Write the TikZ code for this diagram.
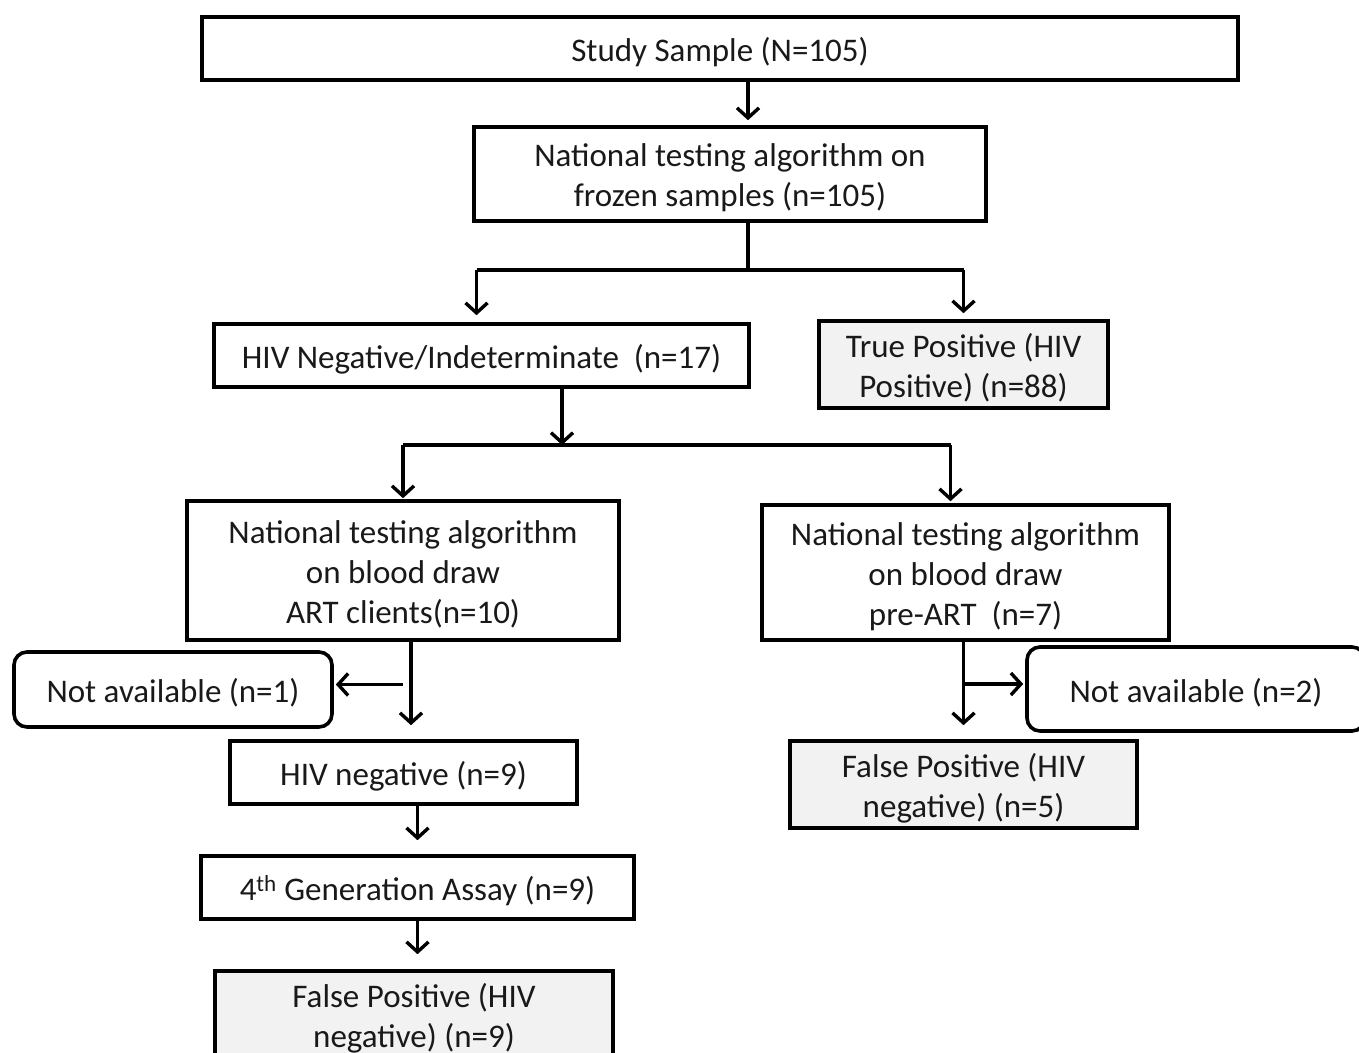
\documentclass[tikz,border=0pt]{standalone}
\usepackage{fontspec}
\setmainfont{Carlito}
\usepackage{xcolor}
\usetikzlibrary{arrows.meta,calc}
\definecolor{boxgrey}{HTML}{F2F2F2}
\newcommand{\lowstrut}{\rule{0pt}{31pt}}

\begin{document}
\begin{tikzpicture}[x=1pt,y=-1pt,
    font=\fontsize{33}{40}\selectfont,
    box/.style={draw,line width=3.6pt,align=center,inner sep=0pt,text=black!90},
    greybox/.style={box,fill=boxgrey},
    roundbox/.style={box,rounded corners=13pt},
    arr/.style={line width=3.6pt,-{Straight Barb[length=10pt,width=22pt,line width=3.4pt]}},
    line/.style={line width=3.6pt}]
      \useasboundingbox (0,0) rectangle (1359,1052);

      \node[box,minimum width=1036,minimum height=63] (sample) at (720,48.5)
        {\lowstrut Study Sample (N=105)};
      \node[box,minimum width=512,minimum height=94] (frozen) at (730,174)
        {\lowstrut National testing algorithm on\\frozen samples (n=105)};
      \node[box,minimum width=535,minimum height=63] (negind) at (481.5,355.5)
        {\lowstrut HIV Negative/Indeterminate\ \ (n=17)};
      \node[greybox,minimum width=289,minimum height=87] (truepos) at (963.5,364.5)
        {\lowstrut True Positive (HIV\\Positive) (n=88)};
      \node[box,minimum width=432,minimum height=139] (art) at (403,570.5)
        {\lowstrut National testing algorithm\\on blood draw\\ART clients(n=10)};
      \node[box,minimum width=407,minimum height=135] (preart) at (965.5,572.5)
        {\lowstrut National testing algorithm\\on blood draw\\pre-ART\ \ (n=7)};
      \node[roundbox,minimum width=318,minimum height=75] (naart) at (173,689.5)
        {\lowstrut Not available (n=1)};
      \node[roundbox,minimum width=338,minimum height=84] (napre) at (1196,689)
        {\lowstrut Not available (n=2)};
      \node[box,minimum width=347,minimum height=63] (hivneg) at (403.5,772.5)
        {\lowstrut HIV negative (n=9)};
      \node[greybox,minimum width=347,minimum height=87] (fppre) at (963.5,784.5)
        {\lowstrut False Positive (HIV\\negative) (n=5)};
      \node[box,minimum width=433,minimum height=63] (gen4) at (417.5,887.5)
        {\lowstrut 4\textsuperscript{th} Generation Assay (n=9)};
      \node[greybox,minimum width=398,minimum height=88] (fpart) at (414,1015)
        {\lowstrut False Positive (HIV\\negative) (n=9)};

      % first split
      \coordinate (split1) at (748,270);
      \coordinate (split2) at (562,445);
      \draw[arr,shorten >=5pt] ([xshift=28]sample.south) -- ([xshift=18]frozen.north);
      \draw[line] ([xshift=18]frozen.south) -- (split1);
      \draw[line] ([xshift=-5]negind.north |- split1) -- (truepos.north |- split1);
      \draw[arr,shorten >=7pt] ([xshift=-5]negind.north |- split1) -- ([xshift=-5]negind.north);
      \draw[arr,shorten >=6pt] (truepos.north |- split1) -- (truepos.north);

      % second split
      \draw[arr] (negind.south -| split2) -- (split2);
      \draw[line] (art.north |- split2) -- ([xshift=-15]preart.north |- split2);
      \draw[arr,shorten >=1pt] (art.north |- split2) -- (art.north);
      \draw[arr,shorten >=2pt] ([xshift=-15]preart.north |- split2) -- ([xshift=-15]preart.north);

      % ART clients branch
      \draw[arr,shorten >=14pt] ([xshift=8]art.south) -- ([xshift=8]art.south |- hivneg.north);
      \draw[arr,shorten >=2pt] ([yshift=5]art.south |- naart.east) -- ([yshift=5]naart.east);
      \draw[arr,shorten >=14pt] (hivneg.south -| gen4.north) -- (gen4.north);
      \draw[arr,shorten >=15pt] (gen4.south) -- (gen4.south |- fpart.north);

      % pre-ART branch
      \draw[arr,shorten >=14pt] (preart.south -| fppre.north) -- (fppre.north);
      \draw[arr,shorten >=2pt] ([yshift=5]fppre.north |- napre.west) -- ([yshift=5]napre.west);
    \end{tikzpicture}
\end{document}
